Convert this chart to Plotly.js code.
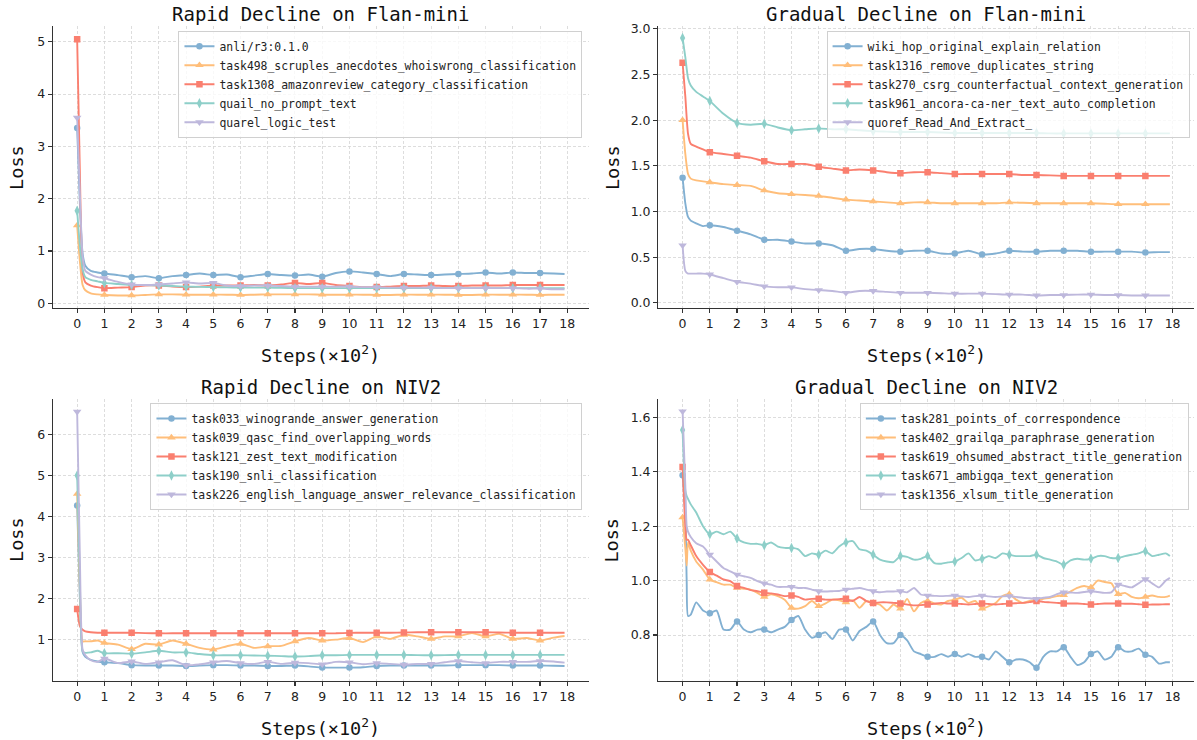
<!DOCTYPE html>
<html>
<head>
<meta charset="utf-8">
<script src="https://cdn.plot.ly/plotly-3.0.1.min.js"></script>
<style>html,body{margin:0;padding:0;background:#fff;}#chart{width:1197px;height:740px;}</style>
</head>
<body>
<div id="chart"></div>
<script>
// x positions in units of 100 steps
const stepsCoarse = [0,0.1,0.2,0.3,0.5,0.75,1,1.5,2,2.5,3,3.5,4,4.5,5,5.5,6,6.5,7,7.5,8,8.5,9,9.5,10,10.5,11,11.5,12,12.5,13,13.5,14,14.5,15,15.5,16,16.5,17,17.5,17.9];
const stepsFine = [0,0.1,0.15,0.2,0.3,0.5,0.75,1,1.25,1.5,1.75,2,2.25,2.5,2.75,3,3.25,3.5,3.75,4,4.25,4.5,4.75,5,5.25,5.5,5.75,6,6.25,6.5,6.75,7,7.25,7.5,7.75,8,8.25,8.5,8.75,9,9.25,9.5,9.75,10,10.25,10.5,10.75,11,11.25,11.5,11.75,12,12.25,12.5,12.75,13,13.25,13.5,13.75,14,14.25,14.5,14.75,15,15.25,15.5,15.75,16,16.25,16.5,16.75,17,17.25,17.5,17.75,17.9];
const xTickLabels = ['0','1','2','3','4','5','6','7','8','9','10','11','12','13','14','15','16','17','18'];

// Panel 1: Rapid Decline on Flan-mini
const p1Names = ['anli/r3:0.1.0','task498_scruples_anecdotes_whoiswrong_classification','task1308_amazonreview_category_classification','quail_no_prompt_text','quarel_logic_test'];
const p1_anli = [3.35,1.9,0.95,0.72,0.62,0.59,0.57,0.54,0.50,0.52,0.48,0.52,0.54,0.57,0.54,0.55,0.50,0.53,0.56,0.54,0.53,0.55,0.51,0.58,0.61,0.59,0.56,0.52,0.56,0.55,0.54,0.55,0.56,0.57,0.59,0.57,0.59,0.58,0.58,0.57,0.56];
const p1_task498 = [1.49,0.8,0.35,0.25,0.19,0.17,0.16,0.15,0.15,0.16,0.17,0.17,0.165,0.165,0.165,0.165,0.16,0.165,0.17,0.17,0.17,0.17,0.165,0.165,0.165,0.165,0.16,0.16,0.165,0.165,0.165,0.165,0.16,0.16,0.165,0.165,0.165,0.165,0.16,0.165,0.165];
const p1_task1308 = [5.05,2.5,0.6,0.40,0.34,0.31,0.29,0.30,0.31,0.34,0.34,0.32,0.31,0.32,0.34,0.34,0.34,0.35,0.34,0.36,0.39,0.37,0.39,0.35,0.33,0.31,0.31,0.32,0.33,0.33,0.34,0.33,0.33,0.34,0.34,0.34,0.35,0.35,0.35,0.35,0.35];
const p1_quail = [1.77,1.1,0.65,0.50,0.45,0.42,0.39,0.37,0.35,0.35,0.34,0.33,0.32,0.315,0.31,0.305,0.30,0.30,0.30,0.295,0.29,0.29,0.29,0.29,0.29,0.29,0.29,0.29,0.29,0.29,0.29,0.29,0.29,0.29,0.29,0.29,0.29,0.29,0.29,0.29,0.29];
const p1_quarel = [3.55,2.1,0.9,0.62,0.55,0.50,0.48,0.41,0.36,0.35,0.36,0.38,0.40,0.38,0.39,0.34,0.33,0.34,0.34,0.33,0.32,0.32,0.32,0.32,0.32,0.31,0.31,0.30,0.30,0.30,0.30,0.29,0.29,0.29,0.29,0.29,0.29,0.28,0.28,0.27,0.27];

// Panel 2: Gradual Decline on Flan-mini
const p2Names = ['wiki_hop_original_explain_relation','task1316_remove_duplicates_string','task270_csrg_counterfactual_context_generation','task961_ancora-ca-ner_text_auto_completion','quoref_Read_And_Extract_'];
const p2_wikihop = [1.37,1.09,0.94,0.90,0.87,0.84,0.85,0.83,0.79,0.75,0.69,0.69,0.67,0.65,0.65,0.63,0.57,0.59,0.59,0.57,0.56,0.57,0.57,0.54,0.54,0.57,0.53,0.54,0.57,0.56,0.56,0.57,0.57,0.57,0.56,0.56,0.56,0.56,0.55,0.555,0.555];
const p2_task1316 = [2.0,1.63,1.41,1.36,1.34,1.33,1.32,1.30,1.29,1.28,1.23,1.20,1.19,1.18,1.17,1.15,1.13,1.12,1.11,1.10,1.09,1.10,1.10,1.09,1.09,1.09,1.09,1.09,1.10,1.095,1.09,1.09,1.09,1.09,1.09,1.085,1.08,1.08,1.08,1.08,1.08];
const p2_task270 = [2.63,2.26,1.85,1.74,1.71,1.68,1.65,1.63,1.61,1.59,1.55,1.52,1.52,1.52,1.49,1.47,1.45,1.46,1.45,1.43,1.42,1.43,1.43,1.42,1.41,1.41,1.41,1.41,1.41,1.40,1.40,1.395,1.39,1.39,1.39,1.39,1.39,1.39,1.39,1.39,1.39];
const p2_task961 = [2.90,2.69,2.46,2.38,2.31,2.26,2.21,2.07,1.97,1.95,1.96,1.92,1.89,1.90,1.91,1.90,1.90,1.89,1.88,1.875,1.87,1.87,1.87,1.865,1.86,1.86,1.86,1.86,1.86,1.86,1.86,1.855,1.855,1.855,1.855,1.855,1.855,1.855,1.855,1.855,1.855];
const p2_quoref = [0.63,0.35,0.32,0.32,0.32,0.32,0.31,0.27,0.23,0.21,0.18,0.17,0.17,0.15,0.14,0.13,0.11,0.13,0.13,0.12,0.11,0.11,0.11,0.105,0.10,0.10,0.10,0.095,0.09,0.09,0.08,0.085,0.085,0.09,0.09,0.085,0.085,0.08,0.08,0.08,0.08];

// Panel 3: Rapid Decline on NIV2
const p3Names = ['task033_winogrande_answer_generation','task039_qasc_find_overlapping_words','task121_zest_text_modification','task190_snli_classification','task226_english_language_answer_relevance_classification'];
const p3_task033 = [4.27,2.0,0.70,0.58,0.51,0.47,0.45,0.43,0.38,0.37,0.37,0.37,0.36,0.37,0.38,0.38,0.37,0.37,0.36,0.36,0.37,0.35,0.32,0.32,0.32,0.33,0.36,0.37,0.37,0.37,0.37,0.37,0.38,0.38,0.38,0.38,0.37,0.37,0.37,0.365,0.36];
const p3_task039 = [4.55,2.2,0.96,0.96,0.96,0.98,0.92,0.88,0.77,0.90,0.88,0.98,0.90,0.80,0.76,0.84,0.90,0.80,0.84,0.85,0.96,1.04,0.98,1.00,1.04,0.94,1.08,1.02,1.12,1.08,1.02,1.08,1.08,1.16,1.08,1.14,1.02,1.04,0.98,1.05,1.09];
const p3_task121 = [1.75,1.33,1.24,1.20,1.18,1.17,1.17,1.17,1.17,1.16,1.155,1.155,1.155,1.155,1.155,1.155,1.155,1.155,1.155,1.155,1.155,1.155,1.155,1.155,1.165,1.17,1.17,1.17,1.175,1.18,1.18,1.18,1.18,1.18,1.18,1.175,1.17,1.17,1.17,1.17,1.17];
const p3_task190 = [5.0,2.4,0.72,0.68,0.69,0.73,0.67,0.67,0.66,0.69,0.73,0.69,0.69,0.65,0.62,0.62,0.62,0.615,0.61,0.60,0.59,0.60,0.62,0.62,0.63,0.63,0.63,0.63,0.63,0.625,0.62,0.625,0.63,0.63,0.63,0.63,0.63,0.63,0.63,0.63,0.63];
const p3_task226 = [6.55,3.0,0.75,0.62,0.50,0.46,0.54,0.43,0.47,0.41,0.45,0.50,0.38,0.40,0.45,0.48,0.43,0.41,0.46,0.41,0.44,0.43,0.40,0.46,0.45,0.40,0.43,0.41,0.39,0.41,0.41,0.45,0.48,0.45,0.43,0.46,0.46,0.46,0.48,0.47,0.44];

// Panel 4: Gradual Decline on NIV2 (finer sampling)
const p4Names = ['task281_points_of_correspondence','task402_grailqa_paraphrase_generation','task619_ohsumed_abstract_title_generation','task671_ambigqa_text_generation','task1356_xlsum_title_generation'];
const p4_task281 = [1.387,1.25,1.0,0.87,0.875,0.92,0.89,
  0.88,0.89,0.82,0.82, 0.85,0.82,0.81,0.82, 0.82,0.81,0.82,0.83, 0.855,0.87,0.82,0.79,
  0.80,0.81,0.785,0.82, 0.82,0.78,0.815,0.83, 0.85,0.80,0.77,0.77, 0.80,0.78,0.74,0.73,
  0.72,0.72,0.73,0.72, 0.73,0.72,0.73,0.72, 0.72,0.71,0.74,0.72, 0.70,0.71,0.71,0.70,
  0.68,0.72,0.74,0.74, 0.755,0.72,0.69,0.70, 0.73,0.74,0.71,0.72, 0.755,0.74,0.74,0.75,
  0.728,0.72,0.695,0.70, 0.70];
const p4_task402 = [1.232,1.12,1.055,1.14,1.11,1.07,1.04,
  1.004,0.994,0.985,0.985, 0.973,0.97,0.967,0.955, 0.94,0.95,0.943,0.93, 0.90,0.897,0.906,0.925,
  0.906,0.916,0.93,0.928, 0.92,0.928,0.90,0.925, 0.918,0.912,0.89,0.912, 0.897,0.933,0.887,0.918,
  0.925,0.916,0.912,0.925, 0.93,0.937,0.918,0.925, 0.897,0.906,0.918,0.943, 0.95,0.93,0.918,0.925,
  0.928,0.933,0.937,0.943, 0.947,0.96,0.973,0.98, 0.975,1.0,0.995,0.99, 0.95,0.955,0.94,0.935,
  0.94,0.945,0.94,0.94, 0.945];
const p4_task619 = [1.417,1.2,1.15,1.15,1.13,1.09,1.058,
  1.032,1.018,1.004,0.998, 0.98,0.973,0.965,0.961, 0.955,0.953,0.949,0.943, 0.945,0.94,0.93,0.933,
  0.933,0.93,0.93,0.932, 0.933,0.925,0.94,0.925, 0.918,0.92,0.92,0.918, 0.916,0.912,0.909,0.91,
  0.912,0.915,0.918,0.916, 0.916,0.914,0.912,0.914, 0.916,0.914,0.912,0.914, 0.916,0.917,0.918,0.921,
  0.925,0.922,0.92,0.918, 0.916,0.916,0.916,0.914, 0.912,0.914,0.916,0.916, 0.916,0.915,0.915,0.913,
  0.911,0.912,0.912,0.913, 0.913];
const p4_task671 = [1.553,1.33,1.31,1.30,1.28,1.25,1.20,
  1.17,1.18,1.17,1.18, 1.155,1.14,1.135,1.135, 1.13,1.14,1.125,1.12, 1.12,1.115,1.09,1.10,
  1.095,1.11,1.10,1.125, 1.14,1.145,1.115,1.11, 1.095,1.077,1.07,1.068, 1.09,1.087,1.077,1.08,
  1.09,1.064,1.062,1.067, 1.07,1.083,1.10,1.074, 1.08,1.09,1.083,1.10, 1.095,1.09,1.09,1.09,
  1.095,1.083,1.077,1.07, 1.058,1.074,1.08,1.077, 1.08,1.09,1.09,1.083, 1.083,1.09,1.095,1.10,
  1.108,1.09,1.095,1.10, 1.09];
const p4_task1356 = [1.622,1.35,1.20,1.18,1.16,1.137,1.125,
  1.095,1.07,1.046,1.034, 1.022,1.016,1.01,0.998, 0.99,0.985,0.977,0.977, 0.977,0.973,0.973,0.967,
  0.961,0.96,0.961,0.962, 0.967,0.97,0.973,0.967, 0.961,0.957,0.96,0.96, 0.961,0.957,0.973,0.949,
  0.945,0.944,0.943,0.944, 0.945,0.942,0.94,0.943, 0.945,0.942,0.94,0.942, 0.943,0.94,0.937,0.935,
  0.933,0.937,0.94,0.95, 0.957,0.956,0.955,0.958, 0.961,0.958,0.955,0.957, 0.985,0.98,0.975,0.99,
  1.005,0.99,0.975,1.0, 1.01];

const colors = ['#82B0D2','#FFBE7A','#FA7F6F','#8ECFC9','#BEB8DC'];
const symbols = ['circle','triangle-up','square','diamond-tall','triangle-down'];
const msizes = [6.5,7.5,6.5,7.5,7.5];

const panels = [
  {x: stepsCoarse, names: p1Names, ys: [p1_anli,p1_task498,p1_task1308,p1_quail,p1_quarel], xa:'x', ya:'y', legend:'legend'},
  {x: stepsCoarse, names: p2Names, ys: [p2_wikihop,p2_task1316,p2_task270,p2_task961,p2_quoref], xa:'x2', ya:'y2', legend:'legend2'},
  {x: stepsCoarse, names: p3Names, ys: [p3_task033,p3_task039,p3_task121,p3_task190,p3_task226], xa:'x3', ya:'y3', legend:'legend3'},
  {x: stepsFine, names: p4Names, ys: [p4_task281,p4_task402,p4_task619,p4_task671,p4_task1356], xa:'x4', ya:'y4', legend:'legend4'}
];

const traces = [];
panels.forEach(p => {
  p.ys.forEach((y, i) => {
    traces.push({x: p.x, y: y, xaxis: p.xa, yaxis: p.ya, mode: 'lines', type: 'scatter',
      line: {color: colors[i], width: 1.9, shape: 'spline', smoothing: 0.6},
      showlegend: false, hoverinfo: 'skip'});
    const mx = [], my = [];
    p.x.forEach((xv, k) => { if (Number.isInteger(xv)) { mx.push(xv); my.push(y[k]); } });
    traces.push({x: mx, y: my, xaxis: p.xa, yaxis: p.ya, mode: 'markers', type: 'scatter',
      marker: {color: colors[i], symbol: symbols[i], size: msizes[i], line: {width: 0}},
      showlegend: false, hoverinfo: 'skip'});
  });
  p.names.forEach((n, i) => {
    traces.push({x: [null], y: [null], xaxis: p.xa, yaxis: p.ya, mode: 'lines+markers', type: 'scatter',
      name: n, legend: p.legend,
      line: {color: colors[i], width: 1.9},
      marker: {color: colors[i], symbol: symbols[i], size: msizes[i], line: {width: 0}}});
  });
});

const axisCommon = {
  showline: true, linecolor: '#333', linewidth: 1.2, mirror: false,
  ticks: 'outside', ticklen: 4, tickwidth: 1.1, tickcolor: '#333',
  showgrid: true, gridcolor: '#d4d4d4', gridwidth: 0.8, griddash: '3px,2px',
  zeroline: false, tickfont: {family: 'DejaVu Sans', size: 12.5, color: '#222'}, fixedrange: true
};
function xax(domain, anchor) {
  return Object.assign({}, axisCommon, {domain: domain, anchor: anchor, range: [-0.895, 18.795],
    tickmode: 'array', tickvals: xTickLabels.map(Number), ticktext: xTickLabels});
}
function yax(domain, anchor, range, dtick, fmt) {
  const o = Object.assign({}, axisCommon, {domain: domain, anchor: anchor, range: range, tick0: 0, dtick: dtick});
  if (fmt) o.tickformat = fmt;
  return o;
}
const dxL = [0.0441, 0.4920], dxR = [0.5499, 0.9977];
const dyT = [0.5834, 0.9647], dyB = [0.0804, 0.4608];

const legendCommon = {xanchor: 'right', yanchor: 'top', bgcolor: 'rgba(255,255,255,0.78)',
  bordercolor: '#d0d0d0', borderwidth: 1, tracegroupgap: 0,
  font: {family: 'DejaVu Sans Mono', size: 11.4, color: '#222'}};

const titleFont = {family: 'DejaVu Sans Mono', size: 19, color: '#111'};
const labFont = {family: 'DejaVu Sans Mono', size: 18.5, color: '#111'};
function ann(text, x, y, font, angle) {
  const a = {text: text, x: x, y: y, xref: 'paper', yref: 'paper', showarrow: false,
    xanchor: 'center', yanchor: 'middle', font: font};
  if (angle !== undefined) a.textangle = angle;
  return a;
}
const cxL = 0.268, cxR = 0.7738;
const annotations = [
  ann('Rapid Decline on Flan-mini', cxL, 0.9811, titleFont),
  ann('Gradual Decline on Flan-mini', cxR, 0.9811, titleFont),
  ann('Rapid Decline on NIV2', cxL, 0.477, titleFont),
  ann('Gradual Decline on NIV2', cxR, 0.477, titleFont),
  ann('Steps(×10<sup>2</sup>)', cxL, 0.521, labFont),
  ann('Steps(×10<sup>2</sup>)', cxR, 0.521, labFont),
  ann('Steps(×10<sup>2</sup>)', cxL, 0.0176, labFont),
  ann('Steps(×10<sup>2</sup>)', cxR, 0.0176, labFont),
  ann('Loss', 0.0139, 0.774, labFont, -90),
  ann('Loss', 0.5111, 0.774, labFont, -90),
  ann('Loss', 0.0144, 0.2706, labFont, -90),
  ann('Loss', 0.5111, 0.2706, labFont, -90)
];

const layout = {
  width: 1197, height: 740, margin: {l: 0, r: 0, t: 0, b: 0},
  paper_bgcolor: '#ffffff', plot_bgcolor: '#ffffff', showlegend: true, hovermode: false,
  xaxis: xax(dxL, 'y'), yaxis: yax(dyT, 'x', [-0.095, 5.3], 1),
  xaxis2: xax(dxR, 'y2'), yaxis2: yax(dyT, 'x2', [-0.06, 3.03], 0.5, '.1f'),
  xaxis3: xax(dxL, 'y3'), yaxis3: yax(dyB, 'x3', [0.006, 6.86], 1),
  xaxis4: xax(dxR, 'y4'), yaxis4: yax(dyB, 'x4', [0.633, 1.667], 0.2, '.1f'),
  legend: Object.assign({}, legendCommon, {x: 0.4866, y: 0.9585}),
  legend2: Object.assign({}, legendCommon, {x: 0.9938, y: 0.9585}),
  legend3: Object.assign({}, legendCommon, {x: 0.4866, y: 0.4554}),
  legend4: Object.assign({}, legendCommon, {x: 0.9932, y: 0.4554}),
  annotations: annotations
};

Plotly.newPlot('chart', traces, layout, {staticPlot: true, displayModeBar: false});
</script>
</body>
</html>
